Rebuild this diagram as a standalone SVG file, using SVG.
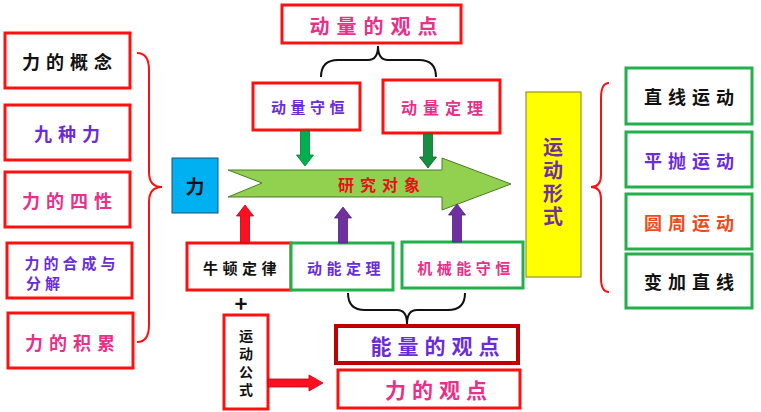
<svg xmlns="http://www.w3.org/2000/svg" width="761" height="412" viewBox="0 0 761 412">
<defs>
<style>
text{font-family:"Noto Sans CJK SC","Noto Sans CJK JP",sans-serif;font-weight:700;text-anchor:middle;dominant-baseline:central}
.rb{fill:#fff;stroke:#ff1010;stroke-width:3}
.gb{fill:#fff;stroke:#22b04a;stroke-width:3}
.k{fill:#111}
.p{fill:#6a2cd8}
.m{fill:#e8308a}
.o{fill:#f04a1a}
.br{fill:none;stroke-width:2}
</style>
</defs>
<rect width="761" height="412" fill="#fff"/>
<g id="left-boxes">
<g id="n-gainian"><rect class="rb" x="5" y="33" width="125" height="55"/><text class="k" x="70" y="61" font-size="18" letter-spacing="6">力的概念</text></g>
<g id="n-jiuzhong"><rect class="rb" x="5" y="105" width="125" height="55"/><text class="p" x="70" y="133" font-size="18" letter-spacing="6">九种力</text></g>
<g id="n-sixing"><rect class="rb" x="5" y="172" width="125" height="55"/><text class="m" x="70" y="200" font-size="18" letter-spacing="6">力的四性</text></g>
<g id="n-hecheng"><rect class="rb" x="7" y="243" width="125" height="55"/><text class="p" x="72" y="262" font-size="15" letter-spacing="4">力的合成与</text><text class="p" x="45" y="282" font-size="15" letter-spacing="4">分解</text></g>
<g id="n-jilei"><rect class="rb" x="8" y="313" width="125" height="55"/><text class="m" x="73" y="342" font-size="18" letter-spacing="6">力的积累</text></g>
</g>
<g id="n-li"><rect x="172" y="158" width="46" height="55" fill="#00b0f0" stroke="#1f4e79" stroke-width="1"/><text class="k" x="195" y="185" font-size="19" font-weight="400">力</text></g>
<g id="n-yanjiu"><path d="M228,170 L442,170 L442,158 L511,184 L442,210 L442,197 L228,197 L262,183 Z" fill="#92d050" stroke="#4e7a2a" stroke-width="1"/><text x="382" y="184" font-size="16" letter-spacing="6" fill="#e8101a">研究对象</text></g>
<g id="n-dongliangguandian"><rect class="rb" x="282" y="5" width="179" height="38"/><text class="m" x="377" y="25" font-size="20" letter-spacing="7">动量的观点</text></g>
<g id="n-shouheng"><rect class="rb" x="253" y="83" width="107" height="47"/><text class="p" x="310" y="106" font-size="15" letter-spacing="4.5">动量守恒</text></g>
<g id="n-dingli"><rect class="rb" x="383" y="80" width="117" height="53"/><text class="m" x="445" y="107" font-size="16" letter-spacing="6">动量定理</text></g>
<g id="n-niudun"><rect class="rb" x="187" y="243" width="104" height="47"/><text class="k" x="242" y="267" font-size="15" letter-spacing="4.5">牛顿定律</text></g>
<g id="n-dongneng"><rect class="gb" x="291" y="243" width="102" height="47"/><text class="p" x="346" y="267" font-size="15" letter-spacing="4.5">动能定理</text></g>
<g id="n-jixie"><rect class="gb" x="402" y="242" width="121" height="46"/><text class="m" x="466" y="267" font-size="15" letter-spacing="4.5">机械能守恒</text></g>
<g id="n-plus"><text class="k" x="241" y="302" font-size="22" font-family="Liberation Sans, sans-serif">+</text></g>
<g id="n-gongshi"><rect class="rb" x="224" y="315" width="44" height="94"/>
<text class="k" x="246" y="365" font-size="14" writing-mode="vertical-rl" letter-spacing="4">运动公式</text></g>
<g id="n-nengliang"><rect x="336" y="326" width="182" height="37" fill="#fff" stroke="#c00000" stroke-width="4"/><text class="p" x="438" y="345" font-size="21" letter-spacing="6">能量的观点</text></g>
<g id="n-liguandian"><rect class="rb" x="338" y="370" width="182" height="38"/><text class="m" x="439" y="389" font-size="21" letter-spacing="6">力的观点</text></g>
<g id="n-xingshi"><rect x="526" y="92" width="55" height="185" fill="#ffff00" stroke="#8a7a20" stroke-width="1"/>
<text x="553" y="183" font-size="20" fill="#7030a0" writing-mode="vertical-rl" letter-spacing="3">运动形式</text></g>
<g id="right-boxes">
<g id="n-zhixian"><rect class="gb" x="626" y="68" width="126" height="56"/><text class="k" x="692" y="96" font-size="18" letter-spacing="6">直线运动</text></g>
<g id="n-pingpao"><rect class="gb" x="626" y="132" width="126" height="55"/><text class="p" x="692" y="160" font-size="18" letter-spacing="6">平抛运动</text></g>
<g id="n-yuanzhou"><rect class="gb" x="626" y="194" width="126" height="55"/><text class="o" x="692" y="222" font-size="18" letter-spacing="6">圆周运动</text></g>
<g id="n-bianjia"><rect class="gb" x="626" y="254" width="126" height="54"/><text class="k" x="692" y="281" font-size="18" letter-spacing="6">变加直线</text></g>
</g>
<g id="connectors">
<path class="br" stroke="#ff1010" d="M137,53 Q149,53 149,70 L149,172 Q149,187 162,187 Q149,187 149,202 L149,325 Q149,342 137,342"/>
<path class="br" stroke="#ff1010" d="M609,83 Q601,83 601,98 L601,175 Q601,187 591,187 Q601,187 601,199 L601,278 Q601,292 609,292"/>
<path class="br" stroke="#111" d="M321,77 Q321,60 338,60 L368,60 Q378,60 378,46 Q378,60 388,60 L419,60 Q436,60 436,77"/>
<path class="br" stroke="#111" d="M348,293 Q348,310 365,310 L397,310 Q407,310 407,324 Q407,310 417,310 L448,310 Q465,310 465,293"/>
<path d="M300.5,131 L309.5,131 L309.5,155 L313.5,155 L305,166 L296.5,155 L300.5,155 Z" fill="#00b050" stroke="#0a7a30" stroke-width="0.8"/>
<path d="M423.5,134 L432.5,134 L432.5,157 L436.5,157 L428,168 L419.5,157 L423.5,157 Z" fill="#149040" stroke="#0a6a2a" stroke-width="0.8"/>
<path d="M240.5,243 L249.5,243 L249.5,216 L253.5,216 L245,205 L236.5,216 L240.5,216 Z" fill="#ff1020" stroke="#c00010" stroke-width="0.8"/>
<path d="M338.5,243 L347.5,243 L347.5,218 L351.5,218 L343,207 L334.5,218 L338.5,218 Z" fill="#7030a0" stroke="#502080" stroke-width="0.8"/>
<path d="M452.5,242 L461.5,242 L461.5,215 L465.5,215 L457,204 L448.5,215 L452.5,215 Z" fill="#7030a0" stroke="#502080" stroke-width="0.8"/>
<path d="M268,379 L309,379 L309,375 L323,383 L309,391 L309,387 L268,387 Z" fill="#ff1020" stroke="#c00010" stroke-width="0.8"/>
</g>
</svg>
